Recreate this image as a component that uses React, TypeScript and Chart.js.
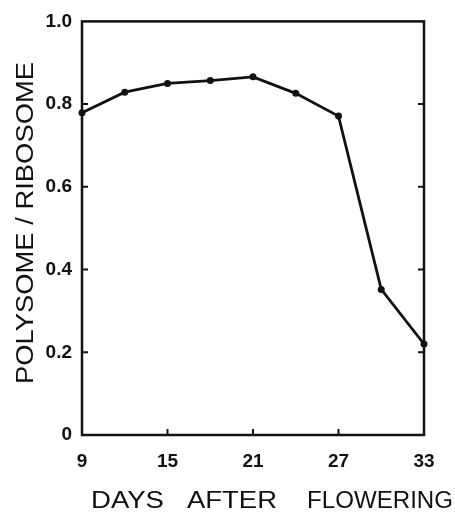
import React, { useEffect, useRef } from "react";
import { Chart, registerables } from "chart.js";

Chart.register(...registerables);

const days = [9, 12, 15, 18, 21, 24, 27, 30, 33];
const ratio = [0.779, 0.829, 0.85, 0.857, 0.866, 0.826, 0.771, 0.352, 0.22];
const xTicks = [9, 15, 21, 27, 33];
const yTicks = [0, 0.2, 0.4, 0.6, 0.8, 1.0];
const xTitleWords = ["DAYS", "AFTER", "FLOWERING"];
const yTitle = "POLYSOME / RIBOSOME";

const INK = "#111";

const framePlugin = {
  id: "frame",
  afterDraw(chart: any) {
    const { ctx, chartArea, scales } = chart;
    const { left, right, top, bottom } = chartArea;
    ctx.save();
    ctx.strokeStyle = INK;
    ctx.lineWidth = 2.5;
    ctx.lineJoin = "miter";
    ctx.strokeRect(left, top, right - left, bottom - top);
    ctx.lineWidth = 2;
    const tl = 6;
    for (const v of yTicks) {
      if (v === yTicks[0] || v === yTicks[yTicks.length - 1]) continue;
      const y = scales.y.getPixelForValue(v);
      ctx.beginPath();
      ctx.moveTo(left, y);
      ctx.lineTo(left + tl, y);
      ctx.moveTo(right, y);
      ctx.lineTo(right - tl, y);
      ctx.stroke();
    }
    for (const v of xTicks) {
      if (v === xTicks[0] || v === xTicks[xTicks.length - 1]) continue;
      const x = scales.x.getPixelForValue(v);
      ctx.beginPath();
      ctx.moveTo(x, bottom);
      ctx.lineTo(x, bottom - tl);
      ctx.stroke();
    }

    // X axis title, word by word
    ctx.fillStyle = INK;
    ctx.font = "23px 'Liberation Sans', Arial, sans-serif";
    ctx.textBaseline = "alphabetic";
    ctx.textAlign = "left";
    const wordBoxes = [
      [91, 73],
      [187, 90],
      [307, 146],
    ];
    const baseY = 508;
    xTitleWords.forEach((w, i) => {
      const [x0, width] = wordBoxes[i];
      const m = ctx.measureText(w).width;
      ctx.save();
      ctx.translate(x0, baseY);
      ctx.scale(width / m, 1);
      ctx.fillText(w, 0, 0);
      ctx.restore();
    });

    // Y axis title, rotated
    ctx.save();
    ctx.font = "23px 'Liberation Sans', Arial, sans-serif";
    const yStart = 384;
    const yEnd = 62;
    const len = yStart - yEnd;
    const m = ctx.measureText(yTitle).width;
    ctx.translate(33, yStart);
    ctx.rotate(-Math.PI / 2);
    ctx.scale(len / m, 1);
    ctx.textAlign = "left";
    ctx.textBaseline = "alphabetic";
    ctx.fillText(yTitle, 0, 0);
    ctx.restore();

    ctx.restore();
  },
};

export default function App() {
  const ref = useRef<HTMLCanvasElement | null>(null);
  useEffect(() => {
    if (!ref.current) return;
    const chart = new Chart(ref.current, {
      type: "line",
      data: {
        datasets: [
          {
            data: days.map((d, i) => ({ x: d, y: ratio[i] })),
            borderColor: INK,
            backgroundColor: INK,
            borderWidth: 2.8,
            pointRadius: 3.5,
            pointBorderWidth: 0,
            tension: 0,
            clip: false as any,
          },
        ],
      },
      options: {
        animation: false,
        responsive: false,
        events: [],
        layout: { padding: { top: 20, right: 31, left: 0, bottom: 0 } },
        plugins: {
          legend: { display: false },
          tooltip: { enabled: false },
          title: { display: false },
        },
        scales: {
          x: {
            type: "linear",
            min: 9,
            max: 33,
            afterBuildTicks: (s: any) => {
              s.ticks = xTicks.map((v) => ({ value: v }));
            },
            afterFit: (s: any) => {
              s.height = 77;
            },
            grid: { display: false, drawTicks: false },
            border: { display: false },
            ticks: {
              padding: 15,
              color: INK,
              maxRotation: 0,
              font: { family: "'Liberation Sans', Arial, sans-serif", size: 19, weight: "bold" },
              callback: (v: any) => String(v),
            },
          },
          y: {
            type: "linear",
            min: 0,
            max: 1,
            afterBuildTicks: (s: any) => {
              s.ticks = yTicks.map((v) => ({ value: v }));
            },
            afterFit: (s: any) => {
              s.width = 82;
            },
            grid: { display: false, drawTicks: false },
            border: { display: false },
            ticks: {
              padding: 10,
              color: INK,
              font: { family: "'Liberation Sans', Arial, sans-serif", size: 19, weight: "bold" },
              callback: (v: any) => (Number(v) === 0 ? "0" : Number(v).toFixed(1)),
            },
          },
        },
      },
      plugins: [framePlugin],
    });
    return () => chart.destroy();
  }, []);
  return (
    <div style={{ position: "absolute", left: 0, top: 0, width: 455, height: 512, background: "#fff" }}>
      <canvas ref={ref} width={455} height={512} style={{ width: 455, height: 512, display: "block" }} />
    </div>
  );
}
